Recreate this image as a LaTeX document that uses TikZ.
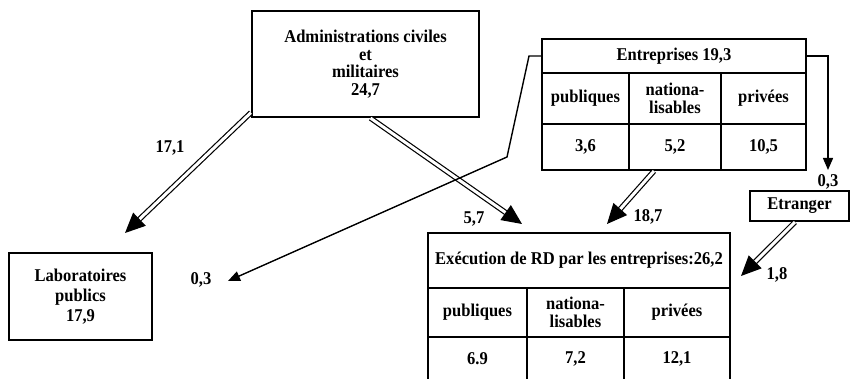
\documentclass[tikz,border=0pt]{standalone}
\usepackage{fontspec}
\setmainfont{Liberation Serif}[FakeStretch=0.92]
\usetikzlibrary{arrows.meta}
\begin{document}
\begin{tikzpicture}[x=1pt,y=-1pt,
  txt/.style={font={\fontsize{18}{17.5}\bfseries\selectfont}},
  box/.style={txt, draw, line width=2.2pt, inner sep=0pt, align=center},
  cell/.style={box, line width=2pt},
  lbl/.style={txt, inner sep=0pt},
  dbl/.style={double=white, double distance=3pt, line width=1.2pt, -{Triangle[length=20pt,width=18pt]}},
  thin/.style={line width=1.4pt, -{Triangle[length=12pt,width=10pt]}}]
\useasboundingbox (0,0) rectangle (851,379);
\clip (0,0) rectangle (851,379);
% Administrations
\node[box, minimum width=227pt, minimum height=106pt] (admin) at (365.5,64)
  {Administrations civiles\\et\\militaires\\24,7};
% Entreprises table
\node[cell, minimum width=264pt, minimum height=34pt] (entT) at (674,56) {Entreprises 19,3};
\node[cell, minimum width=87pt, minimum height=51pt] (entP) at (585.5,98.5) {publiques};
\node[cell, minimum width=92pt, minimum height=51pt] (entN) at (675,98.5) {nationa-\\lisables};
\node[cell, minimum width=85pt, minimum height=51pt] (entV) at (763.5,98.5) {privées};
\node[cell, minimum width=87pt, minimum height=46pt] (entP2) at (585.5,147) {3,6};
\node[cell, minimum width=92pt, minimum height=46pt] (entN2) at (675,147) {5,2};
\node[cell, minimum width=85pt, minimum height=46pt] (entV2) at (763.5,147) {10,5};
% Etranger
\node[box, minimum width=99pt, minimum height=30pt] (etr) at (799.5,206) {Etranger};
% Execution table
\node[cell, minimum width=302pt, minimum height=55pt] (exeT) at (579,260.5)
  {Exécution de RD par les entreprises:26,2};
\node[cell, minimum width=99pt, minimum height=49pt] (exeP) at (477.5,312.5) {publiques};
\node[cell, minimum width=97pt, minimum height=49pt] (exeN) at (575.5,312.5) {nationa-\\lisables};
\node[cell, minimum width=106pt, minimum height=49pt] (exeV) at (677,312.5) {privées};
\node[cell, minimum width=99pt, minimum height=44pt] (exeP2) at (477.5,359) {6.9};
\node[cell, minimum width=97pt, minimum height=44pt] (exeN2) at (575.5,359) {7,2};
\node[cell, minimum width=106pt, minimum height=44pt] (exeV2) at (677,359) {12,1};
% Laboratoires
\node[box, minimum width=143pt, minimum height=87pt,
  font={\fontsize{18}{20}\bfseries\selectfont}] (lab) at (80.5,296.5)
  {Laboratoires\\publics\\17,9};
% free ends
\coordinate (t1) at (125,233);
\coordinate (t2) at (522,224);
\coordinate (t3) at (607,224);
\coordinate (t4) at (741,276);
\coordinate (t5) at (228,281);
\coordinate (t6) at (828,170);
% double arrows
\draw[dbl] (admin.-157) -- (t1);
\draw[dbl] ([xshift=5pt]admin.south) -- (t2);
\draw[dbl] ([xshift=-21pt]entN2.south) -- (t3);
\draw[dbl] ([xshift=-4.5pt]etr.south) -- (t4);
% thin arrows
\draw[thin] (entT.west) -- ++(-12,0) -- (507,157) -- (t5);
\draw[thin] (entT.east) -| (t6);
% labels
\node[lbl] (l1) at (170,148) {17,1};
\node[lbl] (l2) at (474,219) {5,7};
\node[lbl] (l3) at (648,217) {18,7};
\node[lbl] (l4) at (777,275) {1,8};
\node[lbl] (l5) at (201,280) {0,3};
\node[lbl] (l6) at (828,182) {0,3};
\end{tikzpicture}
\end{document}
